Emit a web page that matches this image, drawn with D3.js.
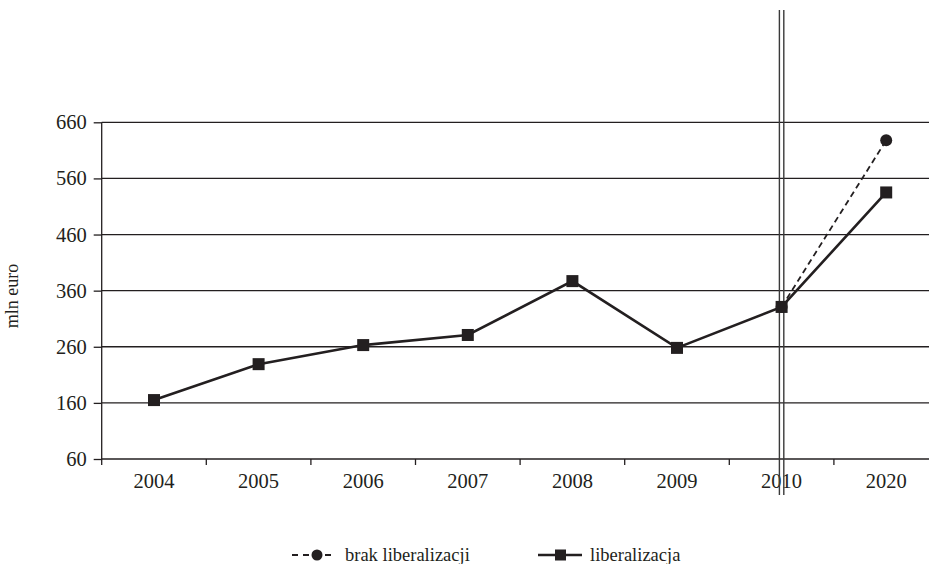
<!DOCTYPE html>
<html><head><meta charset="utf-8">
<script src="https://cdn.jsdelivr.net/npm/d3@7"></script>
<style>html,body{margin:0;padding:0;background:#fff;}svg{display:block;}</style>
</head><body>
<svg id="chart" width="929" height="564"></svg>
<script>
const years = ["2004","2005","2006","2007","2008","2009","2010","2020"];
const liberalizacja = [165, 229, 263, 281, 377, 258, 331, 535];
const brakYears = ["2010","2020"];
const brakLiberalizacji = [331, 628];
const yTicks = [60,160,260,360,460,560,660];
const seriesNames = ["brak liberalizacji","liberalizacja"];
const yLabel = "mln euro";

const svg = d3.select("#chart");
const ink = "#231f20";
const font = "'Liberation Serif', 'DejaVu Serif', serif";

const x = d3.scaleBand().domain(years).range([101.7, 938.5]).padding(0);
const y = d3.scaleLinear().domain([60,660]).range([459, 122.3]);
const cx = d => x(d) + x.bandwidth()/2;

// gridlines
svg.append("g").selectAll("line").data(yTicks.slice(1)).join("line")
  .attr("x1", 101.7).attr("x2", 929).attr("y1", d=>y(d)).attr("y2", d=>y(d))
  .attr("stroke", ink).attr("stroke-width", 1.3);

// y axis
const yAxis = svg.append("g").attr("transform","translate(101.7,0)")
  .call(d3.axisLeft(y).tickValues(yTicks).tickSize(8).tickPadding(7).tickFormat(d3.format("d")));
yAxis.select(".domain").attr("stroke", ink).attr("stroke-width",1.3).attr("d","M0,"+y(660)+"V"+(y(60)+6));
yAxis.selectAll(".tick line").attr("stroke", ink).attr("stroke-width",1.3);
yAxis.selectAll("text").attr("fill", ink).style("font-family", font).style("font-size","20.5px");

// x axis
const xAxis = svg.append("g").attr("transform","translate(0,459)")
  .call(d3.axisBottom(x).tickSize(0).tickPadding(14));
xAxis.select(".domain").remove();
xAxis.append("line").attr("x1",101.7).attr("x2",929).attr("stroke",ink).attr("stroke-width",1.3);
xAxis.selectAll(".tick text").attr("fill", ink).style("font-family", font).style("font-size","20.5px");
// boundary ticks between categories
const bounds = years.slice(1).map(d => x(d));
xAxis.append("g").selectAll("line").data(bounds).join("line")
  .attr("x1", d=>d).attr("x2", d=>d).attr("y1",0).attr("y2",6)
  .attr("stroke", ink).attr("stroke-width",1.3);

// double vertical line at 2010
const c10 = cx("2010");
[-2.2, 2.2].forEach(o => {
  svg.append("line").attr("x1", c10+o).attr("x2", c10+o).attr("y1", 10).attr("y2", 495)
    .attr("stroke", "#3a3a3a").attr("stroke-width", 1.4);
});

// y label
svg.append("text").attr("transform","translate(18,296) rotate(-90)")
  .attr("text-anchor","middle").attr("fill", ink)
  .style("font-family", font).style("font-size","18px").text(yLabel);

// lines
const line = d3.line().x(d=>cx(d[0])).y(d=>y(d[1]));
const brakData = brakYears.map((d,i)=>[d, brakLiberalizacji[i]]);
const libData = years.map((d,i)=>[d, liberalizacja[i]]);

svg.append("path").datum(brakData).attr("d", line).attr("fill","none")
  .attr("stroke", ink).attr("stroke-width", 1.8).attr("stroke-dasharray","6,4");
svg.append("g").selectAll("circle").data(brakData).join("circle")
  .attr("cx", d=>cx(d[0])).attr("cy", d=>y(d[1])).attr("r", 6).attr("fill", ink);

svg.append("path").datum(libData).attr("d", line).attr("fill","none")
  .attr("stroke", ink).attr("stroke-width", 2.6);
svg.append("g").selectAll("rect").data(libData).join("rect")
  .attr("x", d=>cx(d[0])-6).attr("y", d=>y(d[1])-6).attr("width",12).attr("height",12).attr("fill", ink);

// legend
const lg = svg.append("g");
const ly = 555;
lg.append("line").attr("x1",292).attr("x2",336).attr("y1",ly).attr("y2",ly)
  .attr("stroke",ink).attr("stroke-width",2.2).attr("stroke-dasharray","6,5");
lg.append("circle").attr("cx",317).attr("cy",ly).attr("r",5.5).attr("fill",ink);
lg.append("text").attr("x",345).attr("y",ly+6).attr("fill",ink)
  .style("font-family",font).style("font-size","18.5px").text(seriesNames[0]);
lg.append("line").attr("x1",538).attr("x2",582).attr("y1",ly).attr("y2",ly)
  .attr("stroke",ink).attr("stroke-width",2.6);
lg.append("rect").attr("x",555).attr("y",ly-5.5).attr("width",11).attr("height",11).attr("fill",ink);
lg.append("text").attr("x",590).attr("y",ly+6).attr("fill",ink)
  .style("font-family",font).style("font-size","18.5px").text(seriesNames[1]);
</script>
</body></html>
